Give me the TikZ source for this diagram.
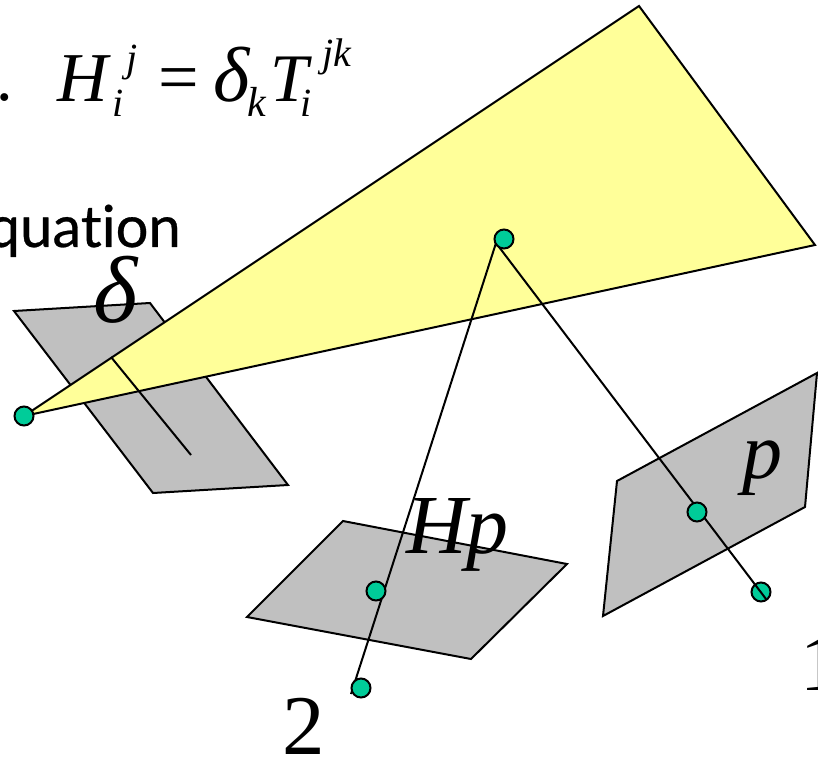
\documentclass[tikz,border=0pt]{standalone}
\usepackage{fontspec}
\setmainfont{Liberation Serif}
\newfontfamily\handfont[Ligatures=NoCommon,FakeBold=0.5]{Lato}
\definecolor{planegray}{HTML}{C0C0C0}
\definecolor{dotgreen}{HTML}{00CC99}
\definecolor{paleyellow}{HTML}{FFFF99}
\tikzset{
  plane/.style={draw=black,fill=planegray,line width=2pt,line join=miter},
  dot/.style={circle,draw=black,fill=dotgreen,line width=2pt,minimum size=19pt,inner sep=0pt},
  ray/.style={draw=black,line width=2pt},
  lab/.style={anchor=base west,inner sep=0pt,outer sep=0pt,font=\itshape\fontsize{#1}{#1}\selectfont},
  rom/.style={anchor=base west,inner sep=0pt,outer sep=0pt,font=\fontsize{#1}{#1}\selectfont}
}
\begin{document}
\begin{tikzpicture}[x=1pt,y=-1pt]
\clip (0,0) rectangle (818,759);
\useasboundingbox (0,0) rectangle (818,759);
\fill[white] (0,0) rectangle (818,759);
% planes
\draw[plane] (14,311) -- (150,303) -- (288,485) -- (153,493) -- cycle;
\draw[plane] (343,521) -- (567,564) -- (471,659) -- (247,617) -- cycle;
\draw[plane] (617,481) -- (817,373) -- (805,507) -- (603,616) -- cycle;
% yellow plane
\coordinate (apex) at (24,416);
\coordinate (ytop) at (639,6);
\coordinate (yright) at (815,245);
\draw[draw=black,fill=paleyellow,line width=2pt] (apex) -- (ytop) -- (yright) -- cycle;
% points and rays
\coordinate (rayA) at (496,243);
\coordinate (end2) at (351,694);
\coordinate (end1) at (766,599);
\coordinate (s1) at (111,357);
\coordinate (s2) at (191,455);
\draw[ray] (s1) -- (s2);
\draw[ray] (rayA) -- (end2);
\node[dot] (d2) at (361,688) {};
\node[dot] (hp) at (376,591) {};
\node[dot] (d1) at (761,592) {};
\draw[ray] (rayA) -- (end1);
\node[dot] (pp) at (697,512) {};
\node[dot] (x) at (504,239) {};
\node[dot] (c) at (apex) {};
% equation
\node[rom=66] (dotp) at (-4,101) {.};
\node[lab=70] (eqH) at (57,102) {H};
\node[lab=40] (eqj) at (126,72) {j};
\node[lab=40] (eqi) at (112,117) {i};
\node[rom=72] (eqeq) at (158,102) {=};
\node[lab=78] (eqd) at (213,102) {δ};
\node[lab=42] (eqk) at (247,117) {k};
\node[lab=68] (eqT) at (270,102) {T};
\node[lab=40] (eqi2) at (300,117) {i};
\node[lab=40] (eqjk) at (322,67) {jk};
% labels
\node[anchor=base east,inner sep=0pt,font=\handfont\fontsize{58}{58}\selectfont] (eqn) at (181,247) {equation};
\node[lab=95] (delta) at (93,322) {δ};
\node[lab=80] (lp) at (742,478) {p};
\node[lab=84] (lHp) at (406,553) {Hp};
\node[rom=85] (l2) at (282,754) {2};
\node[rom=80] (l1) at (800,690) {1};
\end{tikzpicture}
\end{document}
